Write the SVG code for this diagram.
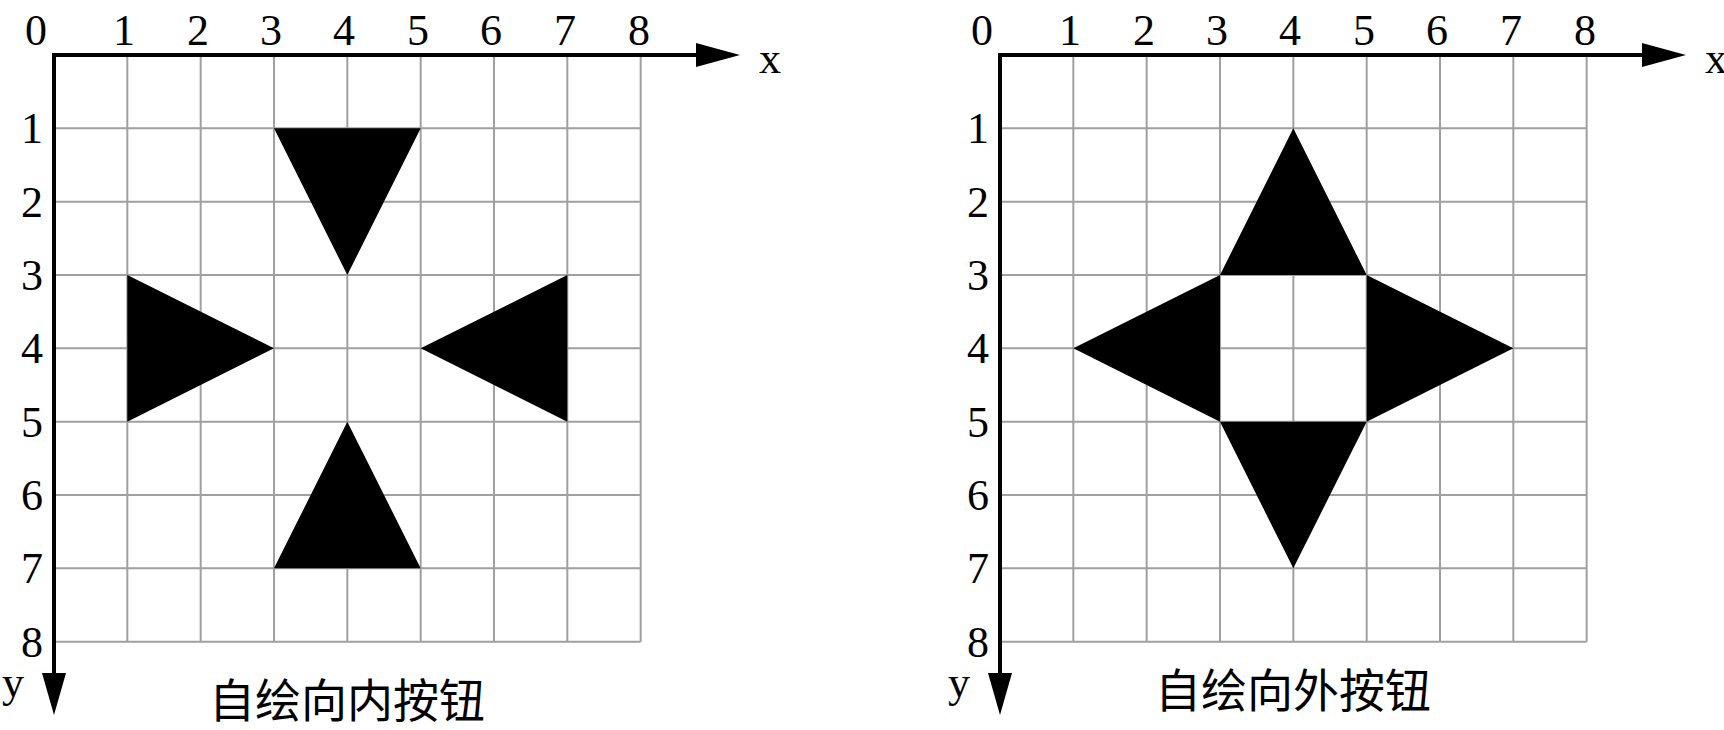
<svg xmlns="http://www.w3.org/2000/svg" width="1724" height="730" viewBox="0 0 1724 730">
<style>
.bg{fill:#ffffff}
.grid{stroke:#a0a0a0;stroke-width:2;fill:none}
.axis{stroke:#000;stroke-width:4;fill:none;stroke-linecap:square;stroke-linejoin:miter}
.head{fill:#000}
.tri{fill:#000}
.num{font-family:"Liberation Serif","Times New Roman",serif;font-size:44px;fill:#000;text-anchor:middle}
.title{font-family:"Liberation Serif","Noto Sans CJK SC",serif;font-size:46px;fill:#000;text-anchor:middle}
</style>
<defs>
<g id="gridlines">
<path class="grid" d="M73.33,0V586.67M146.67,0V586.67M220,0V586.67M293.33,0V586.67M366.67,0V586.67M440,0V586.67M513.33,0V586.67M586.67,0V586.67M0,73.33H586.67M0,146.67H586.67M0,220H586.67M0,293.33H586.67M0,366.67H586.67M0,440H586.67M0,513.33H586.67M0,586.67H586.67"/>
</g>
<g id="axes">
<path class="axis" d="M0,620V0H645"/>
<polygon class="head" points="642,-12 686,0 642,12"/>
<polygon class="head" points="-12,618 0,660 12,618"/>
<text class="num" x="716" y="18">x</text>
<text class="num" x="-41" y="642">y</text>
<text class="num" x="-18" y="-10">0</text>
<text class="num" x="70" y="-10">1</text>
<text class="num" x="144" y="-10">2</text>
<text class="num" x="217" y="-10">3</text>
<text class="num" x="290" y="-10">4</text>
<text class="num" x="364" y="-10">5</text>
<text class="num" x="437" y="-10">6</text>
<text class="num" x="511" y="-10">7</text>
<text class="num" x="585" y="-10">8</text>
<text class="num" x="-22" y="88">1</text>
<text class="num" x="-22" y="162">2</text>
<text class="num" x="-22" y="235">3</text>
<text class="num" x="-22" y="308">4</text>
<text class="num" x="-22" y="382">5</text>
<text class="num" x="-22" y="455">6</text>
<text class="num" x="-22" y="528">7</text>
<text class="num" x="-22" y="602">8</text>
</g>
</defs>
<rect class="bg" x="0" y="0" width="1724" height="730"/>
<g id="inward" transform="translate(54,55)">
<use href="#gridlines"/>
<g id="inward-triangles">
<polygon class="tri" points="220,73.33 366.67,73.33 293.33,220"/>
<polygon class="tri" points="73.33,220 73.33,366.67 220,293.33"/>
<polygon class="tri" points="513.33,220 513.33,366.67 366.67,293.33"/>
<polygon class="tri" points="220,513.33 366.67,513.33 293.33,366.67"/>
</g>
<use href="#axes"/>
<text class="title" x="293" y="662">自绘向内按钮</text>
</g>
<g id="outward" transform="translate(1000,55)">
<use href="#gridlines"/>
<g id="outward-triangles">
<polygon class="tri" points="293.33,73.33 220,220 366.67,220"/>
<polygon class="tri" points="73.33,293.33 220,220 220,366.67"/>
<polygon class="tri" points="513.33,293.33 366.67,220 366.67,366.67"/>
<polygon class="tri" points="293.33,513.33 220,366.67 366.67,366.67"/>
</g>
<use href="#axes"/>
<text class="title" x="293" y="652">自绘向外按钮</text>
</g>
<g id="connectors"/>
</svg>
